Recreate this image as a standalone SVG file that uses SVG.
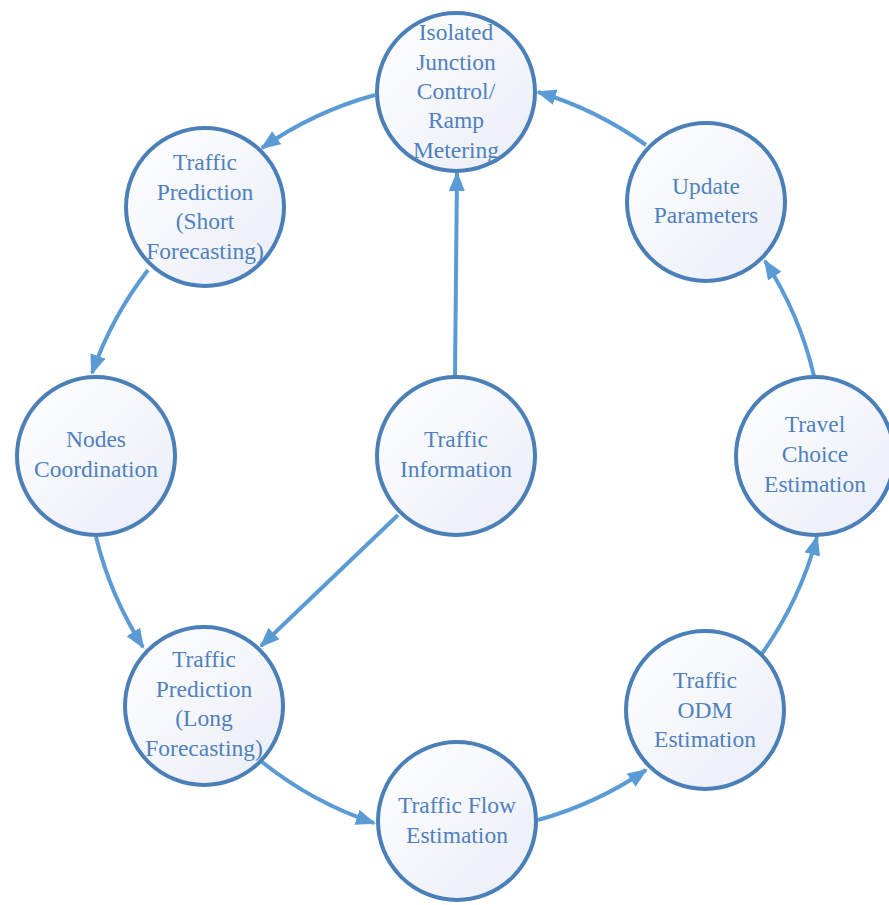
<svg xmlns="http://www.w3.org/2000/svg" width="889" height="905" viewBox="0 0 889 905">
<defs>
<linearGradient id="g" x1="0" y1="0" x2="1" y2="1">
<stop offset="0" stop-color="#ffffff"/>
<stop offset="1" stop-color="#e9edf6"/>
</linearGradient>
<marker id="ah" markerUnits="userSpaceOnUse" markerWidth="22" markerHeight="18" refX="18" refY="8" orient="auto">
<path d="M0,0 L20,8 L0,16 z" fill="#5b9bd5"/>
</marker>
<style>
.n circle{fill:url(#g);stroke:#4a7fb8;stroke-width:4}
.n text{font-family:"Liberation Serif","Times New Roman",serif;font-size:23.5px;fill:#5081bd;text-anchor:middle}
.c path{fill:none;stroke:#5b9bd5;stroke-width:4;marker-end:url(#ah)}
</style>
</defs>
<rect width="889" height="905" fill="#ffffff"/>
<g id="connectors" class="c">
<path d="M375,95 A365,365 0 0 0 262,148"/>
<path d="M148,270 A365,365 0 0 0 92,373"/>
<path d="M96,537 A365,365 0 0 0 143,647"/>
<path d="M262,762 A365,365 0 0 0 374,823"/>
<path d="M538,820 A365,365 0 0 0 646,770"/>
<path d="M761,655 A365,365 0 0 0 817,537"/>
<path d="M814,376 A365,365 0 0 0 765,261"/>
<path d="M646,145 A365,365 0 0 0 538,92"/>
<path d="M455,376 L457,173"/>
<path d="M398,515 L261,646"/>
</g>
<g id="isolated" class="n">
<circle cx="456" cy="92" r="79"/>
<text x="456" y="40">Isolated</text>
<text x="456" y="69.5">Junction</text>
<text x="456" y="99">Control/</text>
<text x="456" y="128">Ramp</text>
<text x="456" y="157.5">Metering</text>
</g>
<g id="short" class="n">
<circle cx="205" cy="207" r="79"/>
<text x="205" y="170">Traffic</text>
<text x="205" y="199.5">Prediction</text>
<text x="205" y="229">(Short</text>
<text x="205" y="258.5">Forecasting)</text>
</g>
<g id="update" class="n">
<circle cx="706" cy="202" r="79"/>
<text x="706" y="194">Update</text>
<text x="706" y="223">Parameters</text>
</g>
<g id="nodes" class="n">
<circle cx="96" cy="456" r="79"/>
<text x="96" y="447">Nodes</text>
<text x="96" y="477">Coordination</text>
</g>
<g id="info" class="n">
<circle cx="456" cy="456" r="79"/>
<text x="456" y="447">Traffic</text>
<text x="456" y="477">Information</text>
</g>
<g id="travel" class="n">
<circle cx="815" cy="456" r="79"/>
<text x="815" y="432">Travel</text>
<text x="815" y="462">Choice</text>
<text x="815" y="491.5">Estimation</text>
</g>
<g id="long" class="n">
<circle cx="204" cy="706" r="79"/>
<text x="204" y="667">Traffic</text>
<text x="204" y="696.5">Prediction</text>
<text x="204" y="726">(Long</text>
<text x="204" y="755.5">Forecasting)</text>
</g>
<g id="odm" class="n">
<circle cx="705" cy="710" r="79"/>
<text x="705" y="688">Traffic</text>
<text x="705" y="717.5">ODM</text>
<text x="705" y="747">Estimation</text>
</g>
<g id="flow" class="n">
<circle cx="457" cy="821" r="79"/>
<text x="457" y="813">Traffic Flow</text>
<text x="457" y="843">Estimation</text>
</g>
</svg>
